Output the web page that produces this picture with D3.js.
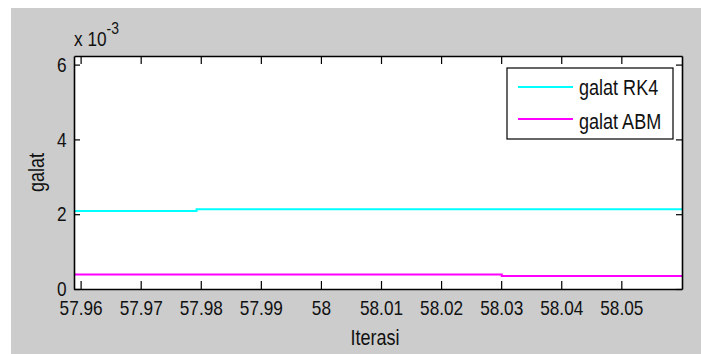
<!DOCTYPE html>
<html>
<head>
<meta charset="utf-8">
<script src="https://cdn.jsdelivr.net/npm/d3@7"></script>
<style>
  html, body { margin: 0; padding: 0; background: #ffffff; }
  svg { display: block; }
  text { font-family: "Liberation Sans", Arial, sans-serif; fill: #111; }
</style>
</head>
<body>
<svg id="chart" width="701" height="354"></svg>
<script>
// Iteration values and error of each method (piecewise constant)
const iterasi   = [57.9589, 57.9793, 58.0301, 58.0601];
const galatRK4  = [2.085e-3, 2.130e-3, 2.130e-3, 2.130e-3];
const galatABM  = [0.386e-3, 0.386e-3, 0.348e-3, 0.348e-3];

const xTicks      = [57.96, 57.97, 57.98, 57.99, 58.00, 58.01, 58.02, 58.03, 58.04, 58.05];
const xTickLabels = ["57.96", "57.97", "57.98", "57.99", "58", "58.01", "58.02", "58.03", "58.04", "58.05"];
const yTicks      = [0, 2e-3, 4e-3, 6e-3];
const yTickLabels = ["0", "2", "4", "6"];

const seriesNames  = ["galat RK4", "galat ABM"];
const seriesColors = ["#00ffff", "#ff00ff"];

// horizontal squeeze giving the condensed look of the labels
const SQUEEZE = 0.82;

const svg = d3.select("#chart");

// place a text at (x, y) and squeeze it horizontally about that point
function narrowText(parent, x, y, str, size, anchor, rotate) {
  const t = parent.append("text")
    .attr("transform", `translate(${x},${y})${rotate ? " rotate(" + rotate + ")" : ""} scale(${SQUEEZE},1)`)
    .attr("text-anchor", anchor || "start")
    .style("font-size", size + "px");
  if (str !== undefined) t.text(str);
  return t;
}

// figure background
svg.append("rect").attr("x", 11).attr("y", 8).attr("width", 690).attr("height", 346).attr("fill", "#cccccc");

const plot = { left: 74, right: 682, top: 56, bottom: 289 };

const x = d3.scaleLinear().domain([57.9589, 58.0601]).range([plot.left, plot.right]);
const y = d3.scaleLinear().domain([0, 6.23e-3]).range([plot.bottom, plot.top]);

// axes background
svg.append("rect")
  .attr("x", plot.left).attr("y", plot.top)
  .attr("width", plot.right - plot.left).attr("height", plot.bottom - plot.top)
  .attr("fill", "#ffffff");

// data lines
const line = d3.line()
  .x((d, i) => x(iterasi[i]))
  .y(d => y(d))
  .curve(d3.curveStepAfter);

[galatRK4, galatABM].forEach((vals, k) => {
  svg.append("path")
    .attr("d", line(vals))
    .attr("fill", "none")
    .attr("stroke", seriesColors[k])
    .attr("stroke-width", 2);
});

const fontTick = 21;

// bottom axis with inward ticks
const gB = svg.append("g").attr("transform", `translate(0,${plot.bottom})`)
  .call(d3.axisBottom(x).tickValues(xTicks)
    .tickFormat((d, i) => xTickLabels[i])
    .tickSizeInner(-8).tickSizeOuter(0).tickPadding(11));
// top axis
const gT = svg.append("g").attr("transform", `translate(0,${plot.top})`)
  .call(d3.axisTop(x).tickValues(xTicks).tickFormat("")
    .tickSizeInner(-8).tickSizeOuter(0));
// left axis
const gL = svg.append("g").attr("transform", `translate(${plot.left},0)`)
  .call(d3.axisLeft(y).tickValues(yTicks)
    .tickFormat((d, i) => yTickLabels[i])
    .tickSizeInner(-6).tickSizeOuter(0).tickPadding(7.5));
// right axis
const gR = svg.append("g").attr("transform", `translate(${plot.right},0)`)
  .call(d3.axisRight(y).tickValues(yTicks).tickFormat("")
    .tickSizeInner(-6).tickSizeOuter(0));

[gB, gT, gL, gR].forEach(g => {
  g.selectAll("path.domain").attr("stroke", "#000").attr("stroke-width", 1.6);
  g.selectAll(".tick line").attr("stroke", "#000").attr("stroke-width", 1.2);
  g.selectAll(".tick text")
    .style("font-family", "\"Liberation Sans\", Arial, sans-serif")
    .style("font-size", fontTick + "px")
    .attr("fill", "#111")
    .attr("transform", `scale(${SQUEEZE},1)`);
});
gB.selectAll(".tick text").attr("dy", "0.72em");
gL.selectAll(".tick text").attr("x", -7.5 / SQUEEZE);

// exponent note above the y axis
const expo = narrowText(svg, plot.left, 46, undefined, 21, "start");
expo.append("tspan").text("x 10");
expo.append("tspan").attr("dy", -12).style("font-size", "17px").text("-3");

// axis titles
narrowText(svg, (plot.left + plot.right) / 2 - 3, 345, "Iterasi", 22, "middle");
narrowText(svg, 44, (plot.top + plot.bottom) / 2, "galat", 22, "middle", -90);

// legend
const lg = svg.append("g");
lg.append("rect")
  .attr("x", 507).attr("y", 68).attr("width", 166).attr("height", 71)
  .attr("fill", "#ffffff").attr("stroke", "#000").attr("stroke-width", 1.2);
const legendRows = [87, 119];
seriesNames.forEach((name, k) => {
  lg.append("line")
    .attr("x1", 518).attr("x2", 573)
    .attr("y1", legendRows[k]).attr("y2", legendRows[k])
    .attr("stroke", seriesColors[k]).attr("stroke-width", 2);
  narrowText(lg, 579, legendRows[k] + 8 + (k === 1 ? 2 : 0), name, 22, "start");
});
</script>
</body>
</html>
